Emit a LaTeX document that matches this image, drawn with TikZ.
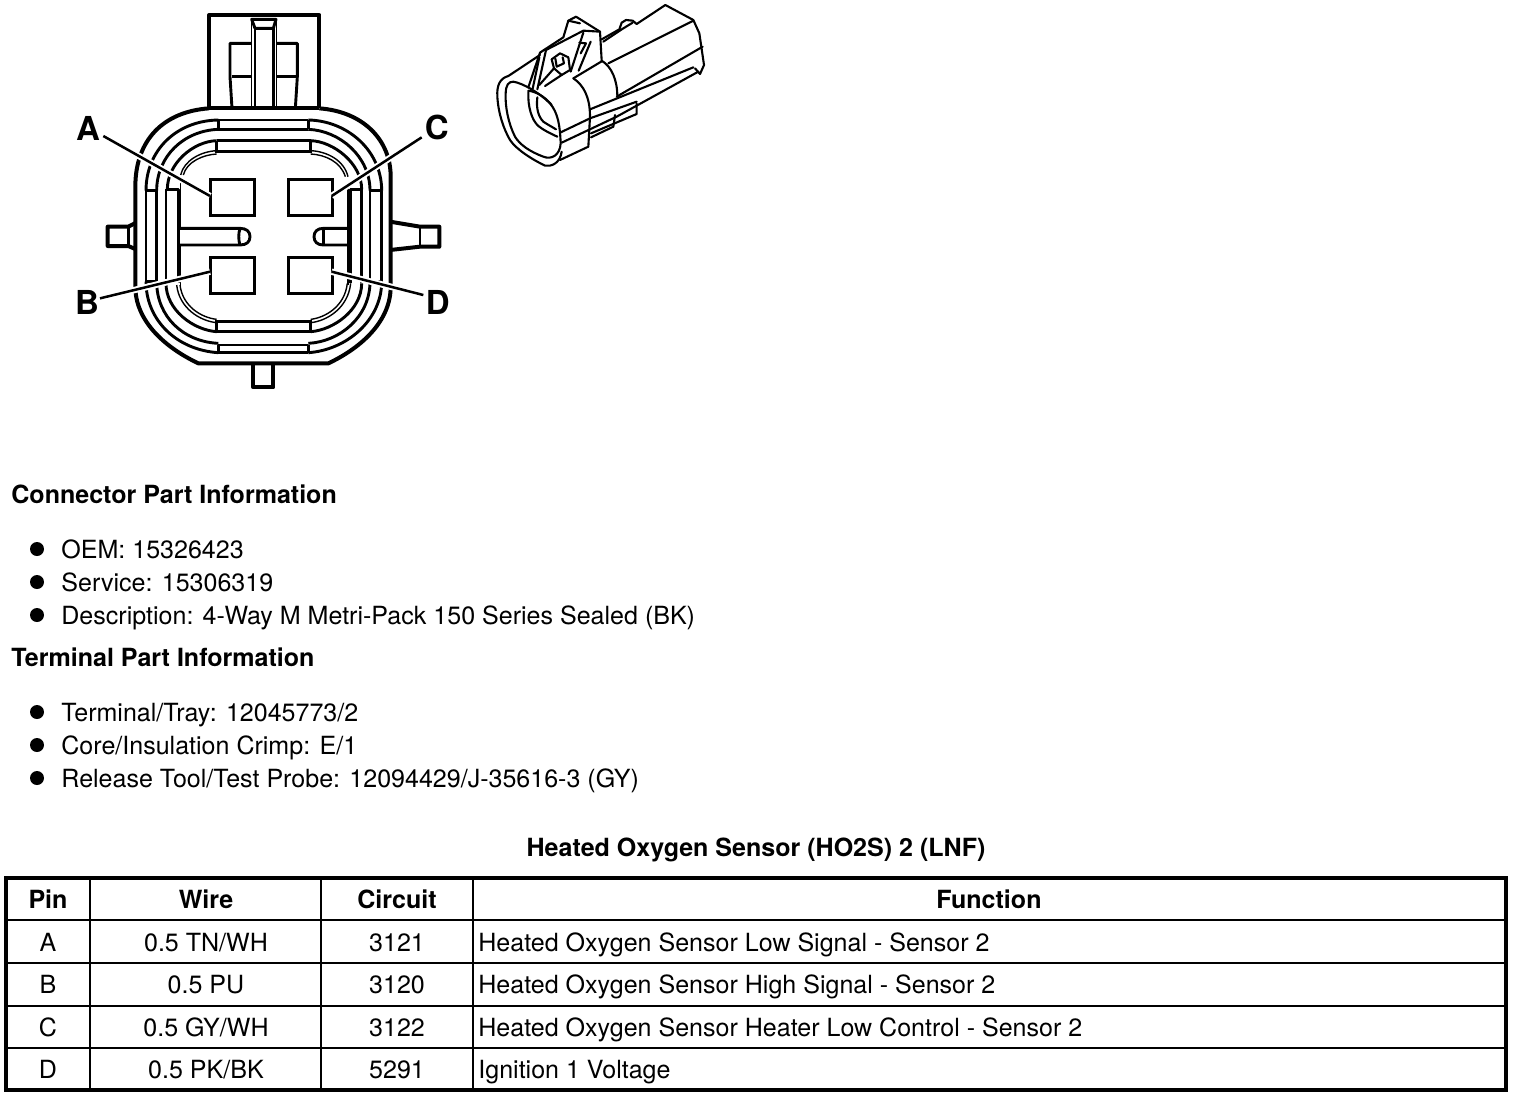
\documentclass[tikz,border=0pt]{standalone}
\usepackage{fontspec}
\setmainfont{TeX Gyre Heros}
\tikzset{
  x=0.5pt,y=-0.5pt,
  wall/.style={line width=2pt,line join=round},
  ln/.style={line width=1.45pt,line join=round},
  thinl/.style={line width=0.7pt},
  iso/.style={line width=1.05pt,line join=round,line cap=round},
  pinbox/.style={draw,line width=1.5pt,minimum width=22pt,minimum height=18.3pt,inner sep=0pt,outer sep=0pt},
  callout/.style={font=\fontsize{16.5}{18}\selectfont\bfseries,inner sep=0pt},
  halo/.style={white,line width=3.2pt},
  lead/.style={line width=1.25pt},
  txt/.style={font=\fontsize{12.52}{14}\selectfont,anchor=base west,inner sep=0pt},
  btxt/.style={font=\fontsize{12.52}{14}\selectfont\bfseries,anchor=base west,inner sep=0pt},
  ctr/.style={font=\fontsize{12.52}{14}\selectfont,anchor=base,inner sep=0pt},
  bctr/.style={font=\fontsize{12.52}{14}\selectfont\bfseries,anchor=base,inner sep=0pt},
  bul/.style={circle,fill=black,minimum size=7pt,inner sep=0pt},
  gridv/.style={line width=0.9pt},
  gridh/.style={line width=0.9pt},
}
\begin{document}
\begin{tikzpicture}
\useasboundingbox (0,0) rectangle (1520,1098);
% ---------- connector end view
\begin{scope}[shift={(60,0)},x=0.16667pt,y=-0.16667pt]
% top housing
\draw[wall] (447,325) -- (447,45) -- (778,45) -- (778,325);
\draw[thinl] (575,58) -- (575,325) (650,58) -- (650,325);
\draw[ln] (585,85) -- (585,325) (640,85) -- (640,325);
\draw[ln] (575,58) -- (648,58) -- (640,85) -- (585,85) -- cycle;
\draw[ln] (575,130) -- (510,130) -- (510,230) -- (516,325);
\draw[ln] (650,130) -- (712,130) -- (712,230) -- (706,325);
\draw[ln] (515,230) -- (575,230) (650,230) -- (710,230);
\draw[wall] (447,325) -- (778,325);
% side and bottom tabs
\draw[wall] (228,668) -- (205,680) -- (143,680) -- (143,738) -- (205,738) -- (228,748);
\draw[ln] (205,680) -- (205,738);
\draw[wall] (990,665) -- (1080,680) -- (1138,680) -- (1138,740) -- (1080,740) -- (990,750);
\draw[ln] (1080,680) -- (1080,740);
\draw[wall] (580,1092) -- (580,1162) -- (640,1162) -- (640,1092);
% outer wall
\draw[wall] (447,325) .. controls (310,335) and (226,420) .. (226,560) -- (226,860)
  .. controls (226,960) and (310,1040) .. (415,1090) -- (805,1090)
  .. controls (910,1040) and (992,960) .. (992,860) -- (992,530)
  .. controls (992,420) and (910,335) .. (778,325);
% rings
\draw[ln] (475,360) -- (745,360) (475,388) -- (745,388) (475,360) -- (475,388) (745,360) -- (745,388);
\draw[ln] (470,422) -- (752,422) (470,455) -- (752,455) (470,422) -- (470,460) (752,422) -- (752,460);
\draw[ln] (475,1035) -- (745,1035) (475,1058) -- (745,1058) (475,1035) -- (475,1058) (745,1035) -- (745,1058);
\draw[ln] (470,965) -- (752,965) (470,995) -- (752,995) (470,960) -- (470,998) (752,960) -- (752,998);
% top-left arcs
\draw[ln] (475,360) .. controls (350,362) and (258,450) .. (258,572);
\draw[ln] (475,388) .. controls (370,392) and (290,470) .. (290,572);
\draw[ln] (470,422) .. controls (400,424) and (322,490) .. (322,568);
\draw[thinl] (470,452) .. controls (425,454) and (372,480) .. (362,525);
\draw[thinl] (470,462) .. controls (430,464) and (380,485) .. (370,525);
% top-right arcs
\draw[ln] (745,360) .. controls (860,362) and (965,450) .. (965,572);
\draw[ln] (745,388) .. controls (840,392) and (930,470) .. (930,572);
\draw[ln] (752,422) .. controls (820,424) and (905,490) .. (905,568);
\draw[thinl] (752,452) .. controls (800,454) and (852,480) .. (864,530);
\draw[thinl] (752,462) .. controls (795,464) and (842,485) .. (856,530);
% bottom-left arcs
\draw[ln] (475,1058) .. controls (350,1050) and (258,960) .. (258,845);
\draw[ln] (475,1030) .. controls (370,1025) and (290,950) .. (290,845);
\draw[ln] (470,995) .. controls (400,990) and (318,930) .. (318,850);
\draw[thinl] (470,968) .. controls (420,963) and (358,925) .. (350,855);
\draw[thinl] (470,958) .. controls (425,953) and (368,920) .. (360,855);
% bottom-right arcs
\draw[ln] (745,1058) .. controls (860,1050) and (965,960) .. (965,845);
\draw[ln] (745,1030) .. controls (840,1025) and (930,950) .. (930,845);
\draw[ln] (752,995) .. controls (820,990) and (905,930) .. (905,850);
\draw[thinl] (752,968) .. controls (800,963) and (864,925) .. (872,850);
\draw[thinl] (752,958) .. controls (795,953) and (854,920) .. (862,850);
% vertical ribs left
\draw[ln] (258,572) -- (258,845) -- (290,845) -- (290,572) -- cycle;
\draw[ln] (318,568) -- (318,850) (318,568) -- (355,568) -- (355,850);
\draw[thinl] (362,545) -- (362,685) (362,735) -- (362,855);
% vertical ribs right
\draw[ln] (930,572) -- (930,845) -- (965,845) -- (965,572) -- cycle;
\draw[ln] (905,568) -- (905,850) (905,568) -- (872,568) -- (872,850);
\draw[thinl] (864,545) -- (864,855);
% slots
\draw[ln] (358,685) -- (540,685) .. controls (560,685) and (570,695) .. (570,710) .. controls (570,725) and (560,735) .. (540,735) -- (358,735);
\draw[ln] (540,685) .. controls (535,700) and (535,720) .. (540,735);
\draw[ln] (868,685) -- (790,685) .. controls (772,685) and (762,695) .. (762,710) .. controls (762,725) and (772,735) .. (790,735) -- (868,735);
\draw[ln] (790,685) -- (790,735);
% pins
\node[pinbox] (pinA) at (516,592) {};
\node[pinbox] (pinC) at (750,592) {};
\node[pinbox] (pinB) at (516,826) {};
\node[pinbox] (pinD) at (750,826) {};
% callouts
\node[callout] (lblA) at (84,385) {A};
\node[callout] (lblC) at (1130,383) {C};
\node[callout] (lblB) at (81,906) {B};
\node[callout] (lblD) at (1133,906) {D};
\coordinate (ea) at (130,408);
\coordinate (ec) at (1085,412);
\coordinate (eb) at (120,895);
\coordinate (ed) at (1090,885);
\coordinate (ta) at (450,588);
\coordinate (tc) at (815,588);
\coordinate (tb) at (450,815);
\coordinate (td) at (815,815);
\draw[halo] (ea) -- (ta) (ec) -- (tc) (eb) -- (tb) (ed) -- (td);
\draw[lead] (ea) -- (ta);
\draw[lead] (ec) -- (tc);
\draw[lead] (eb) -- (tb);
\draw[lead] (ed) -- (td);
\end{scope}
% ---------- connector perspective view
\begin{scope}[shift={(480,0)},x=0.16667pt,y=-0.16667pt]
% face
\draw[iso] (85,228) .. controls (60,235) and (50,255) .. (52,290) .. controls (55,340) and (70,385) .. (90,420)
  .. controls (110,450) and (160,480) .. (195,497) .. controls (215,500) and (240,490) .. (245,455);
\draw[iso] (100,245) .. controls (130,250) and (180,280) .. (210,310) .. controls (235,340) and (240,380) .. (242,430)
  .. controls (240,465) and (215,480) .. (190,470) .. controls (150,455) and (120,435) .. (105,410)
  .. controls (85,370) and (75,320) .. (77,280) .. controls (78,255) and (85,245) .. (100,245) -- cycle;
\draw[iso] (145,275) .. controls (143,320) and (155,360) .. (175,378) .. controls (190,390) and (210,400) .. (232,410);
\draw[iso] (172,292) .. controls (168,325) and (175,350) .. (190,365) .. controls (200,372) and (215,380) .. (228,388);
\draw[iso] (145,272) .. controls (165,275) and (190,285) .. (215,315);
% top of shell
\draw[iso] (85,228) -- (180,165);
\draw[iso] (180,158) -- (145,262);
\draw[iso] (178,172) -- (158,266);
\draw[iso] (198,150) -- (172,268);
\draw[iso] (180,158) -- (198,146) -- (250,112) -- (265,62) -- (288,50) -- (360,95) -- (365,182);
\draw[iso] (198,150) -- (310,92) -- (360,95);
\draw[iso] (265,62) -- (300,70);
% latch window
\draw[iso] (310,98) -- (272,215);
\draw[iso] (332,125) -- (296,212);
\draw[iso] (365,184) -- (280,235);
\draw[iso] (215,178) -- (240,160) -- (265,172) -- (270,210) -- (245,225);
\draw[iso] (215,178) -- (222,205) -- (178,255);
\draw[iso] (226,176) -- (230,200) -- (252,190) -- (248,172);
\draw[iso] (222,205) -- (245,225) -- (195,258);
\draw[iso] (298,128) -- (318,130) -- (302,160);
% rear body
\draw[iso] (365,118) -- (418,88) -- (425,68) -- (438,60) -- (458,62) -- (470,72) -- (556,15) -- (640,60) -- (658,100) -- (672,195) -- (660,222) -- (645,205);
\draw[iso] (370,125) -- (430,85) -- (458,68);
\draw[iso] (385,190) -- (640,62);
\draw[iso] (410,290) -- (668,140);
\draw[iso] (330,328) -- (640,202);
\draw[iso] (240,398) -- (330,355) -- (470,305);
\draw[iso] (245,428) -- (410,350) -- (655,215);
% band rings
\draw[iso] (280,235) .. controls (310,255) and (330,290) .. (330,350) -- (325,440) -- (240,480);
\draw[iso] (365,182) .. controls (395,200) and (412,240) .. (412,290);
% lower clip
\draw[iso] (333,400) -- (470,342) -- (470,310);
\draw[iso] (333,412) -- (400,380) -- (405,345);
\end{scope}
% ---------- text block
\node[btxt] (h1) at (11,503) {Connector Part Information};
\node[bul] (b1) at (37,549) {}; \node[txt] (t1) at (61,558) {OEM: 15326423};
\node[bul] (b2) at (37,582) {}; \node[txt] (t2) at (61,591) {Service: 15306319};
\node[bul] (b3) at (37,615) {}; \node[txt] (t3) at (61,624) {Description: 4-Way M Metri-Pack 150 Series Sealed (BK)};
\node[btxt] (h2) at (11,666) {Terminal Part Information};
\node[bul] (b4) at (37,712) {}; \node[txt] (t4) at (61,721) {Terminal/Tray: 12045773/2};
\node[bul] (b5) at (37,745) {}; \node[txt] (t5) at (61,754) {Core/Insulation Crimp: E/1};
\node[bul] (b6) at (37,778) {}; \node[txt] (t6) at (61,787) {Release Tool/Test Probe: 12094429/J-35616-3 (GY)};
\node[bctr] (title) at (756,856) {Heated Oxygen Sensor (HO2S) 2 (LNF)};
% ---------- table
\draw[gridv] (90,878) -- (90,1090) (321,878) -- (321,1090) (473,878) -- (473,1090);
\draw[line width=1.4pt] (6,920) -- (1506,920);
\draw[gridh] (6,963) -- (1506,963) (6,1006) -- (1506,1006) (6,1048) -- (1506,1048);
\draw[line width=2pt] (6,878) rectangle (1506,1090);
\node[bctr] (c00) at (48,908) {Pin};
\node[bctr] (c01) at (206,908) {Wire};
\node[bctr] (c02) at (397,908) {Circuit};
\node[bctr] (c03) at (989,908) {Function};
\node[ctr] (c10) at (48,951) {A};
\node[ctr] (c11) at (206,951) {0.5 TN/WH};
\node[ctr] (c12) at (397,951) {3121};
\node[txt] (c13) at (478,951) {Heated Oxygen Sensor Low Signal - Sensor 2};
\node[ctr] (c20) at (48,993) {B};
\node[ctr] (c21) at (206,993) {0.5 PU};
\node[ctr] (c22) at (397,993) {3120};
\node[txt] (c23) at (478,993) {Heated Oxygen Sensor High Signal - Sensor 2};
\node[ctr] (c30) at (48,1036) {C};
\node[ctr] (c31) at (206,1036) {0.5 GY/WH};
\node[ctr] (c32) at (397,1036) {3122};
\node[txt] (c33) at (478,1036) {Heated Oxygen Sensor Heater Low Control - Sensor 2};
\node[ctr] (c40) at (48,1078) {D};
\node[ctr] (c41) at (206,1078) {0.5 PK/BK};
\node[ctr] (c42) at (397,1078) {5291};
\node[txt] (c43) at (478,1078) {Ignition 1 Voltage};
\end{tikzpicture}
\end{document}
